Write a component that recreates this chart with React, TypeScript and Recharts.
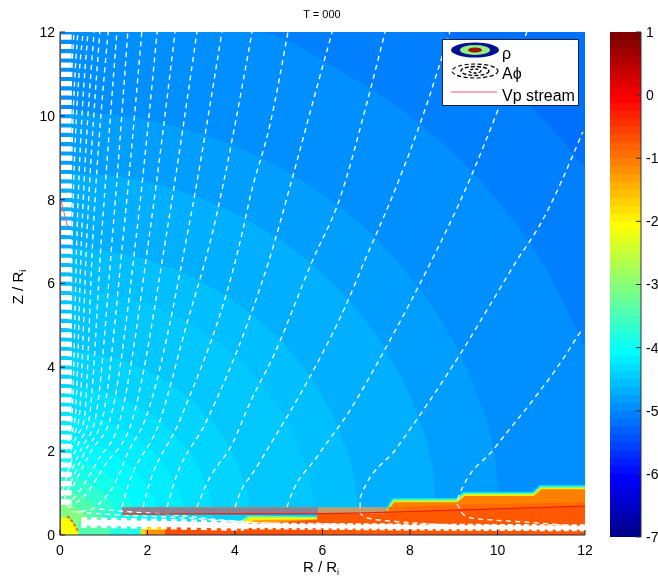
import React from "react";
import { ComposedChart, Area, Line, XAxis, YAxis } from "recharts";

type P = { x: number; z: number };
const pts = (a: number[][]): P[] => a.map(([x, z]) => ({ x, z }));

const axisTicks = [0, 2, 4, 6, 8, 10, 12];
const barTicks = [-7, -6, -5, -4, -3, -2, -1, 0, 1];
const jet = ["#00008f","#00009f","#0000af","#0000bf","#0000cf","#0000df","#0000ef","#0000ff","#0010ff","#0020ff","#0030ff","#0040ff","#0050ff","#0060ff","#0070ff","#0080ff","#008fff","#009fff","#00afff","#00bfff","#00cfff","#00dfff","#00efff","#00ffff","#10ffef","#20ffdf","#30ffcf","#40ffbf","#50ffaf","#60ff9f","#70ff8f","#80ff80","#8fff70","#9fff60","#afff50","#bfff40","#cfff30","#dfff20","#efff10","#ffff00","#ffef00","#ffdf00","#ffcf00","#ffbf00","#ffaf00","#ff9f00","#ff8f00","#ff8000","#ff7000","#ff6000","#ff5000","#ff4000","#ff3000","#ff2000","#ff1000","#ff0000","#ef0000","#df0000","#cf0000","#bf0000","#af0000","#9f0000","#8f0000","#800000"];

// density contour bands, largest first
const ringAll = [[0,12],[12,12]];
const ring15 = [[0,12],[8.75,12],[9.55,11.37],[10.5,10.5],[11.37,9.55],[12,8.75]];
const ring13 = [[0,12],[4.45,12],[6.4,11.08],[8.23,9.8],[9.8,8.23],[11.08,6.4],[12,4.45]];
const ring10 = [[0,10.1],[1.75,9.95],[3.45,9.49],[5.05,8.75],[6.49,7.74],[7.74,6.49],[8.75,5.05],[9.49,3.45],[9.95,1.75],[10.1,0]];
const ring9 = [[0,8.65],[1.5,8.52],[2.96,8.13],[4.33,7.49],[5.56,6.63],[6.63,5.56],[7.49,4.33],[8.13,2.96],[8.52,1.5],[8.65,0]];
const ring7 = [[0,6.85],[1.19,6.75],[2.34,6.44],[3.43,5.93],[4.4,5.25],[5.25,4.4],[5.93,3.43],[6.44,2.34],[6.75,1.19],[6.85,0]];
const ring6 = [[0,5.85],[1.02,5.76],[2,5.5],[2.93,5.07],[3.76,4.48],[4.48,3.76],[5.07,2.93],[5.5,2],[5.76,1.02],[5.85,0]];
const ring4 = [[0,4.4],[0.76,4.33],[1.5,4.13],[2.2,3.81],[2.83,3.37],[3.37,2.83],[3.81,2.2],[4.13,1.5],[4.33,0.76],[4.4,0]];
const ring3a = [[0,3.55],[0.62,3.5],[1.21,3.34],[1.78,3.07],[2.28,2.72],[2.72,2.28],[3.07,1.78],[3.34,1.21],[3.5,0.62],[3.55,0]];
const ring3 = [[0,2.9],[0.99,2.73],[1.86,2.22],[2.51,1.45],[2.86,0.5],[2.9,0]];
const ring2a = [[0,2.3],[0.79,2.16],[1.48,1.76],[1.99,1.15],[2.27,0.4],[2.3,0]];
const ring2 = [[0,1.8],[0.62,1.69],[1.16,1.38],[1.56,0.9],[1.77,0.31],[1.8,0]];
const ring1a = [[0,1.4],[0.48,1.32],[0.9,1.07],[1.21,0.7],[1.38,0.24],[1.4,0]];
const ring1 = [[0,1.05],[0.36,0.99],[0.67,0.8],[0.91,0.53],[1.03,0.18],[1.05,0]];
const ring0 = [[0,0.75],[0.26,0.7],[0.48,0.57],[0.65,0.38],[0.74,0.13],[0.75,0]];
const ringBands: [number[][], string][] = [
  [ringAll, jet[14]], [ring15, jet[15]], [ring13, jet[16]], [ring10, jet[17]], [ring9, jet[18]],
  [ring7, jet[19]], [ring6, "#00c8ff"], [ring4, "#00d4ff"], [ring3a, "#00e0ff"], [ring3, "#00ecff"],
  [ring2a, "#00f8ff"], [ring2, "#14ffeb"], [ring1a, "#30ffd0"], [ring1, "#50ffaf"], [ring0, jet[31]],
];

// disk top, stepped, with its thin colour transition
const diskCyan = [[5.88,0.67],[7.47,0.67],[7.6,0.88],[9.05,0.88],[9.22,1.03],[10.8,1.03],[10.97,1.19],[12,1.19]];
const diskGreen = [[5.88,0.64],[7.48,0.64],[7.61,0.85],[9.06,0.85],[9.23,1.0],[10.81,1.0],[10.98,1.16],[12,1.16]];
const diskYellow = [[5.88,0.61],[7.49,0.61],[7.62,0.82],[9.07,0.82],[9.24,0.97],[10.82,0.97],[10.99,1.13],[12,1.13]];
const diskOrange = [[5.88,0.58],[7.5,0.58],[7.63,0.78],[9.08,0.78],[9.25,0.93],[10.83,0.93],[11,1.09],[12,1.09]];
const diskDeep = [[5.88,0.5],[7.5,0.52],[9,0.57],[12,0.68]];
const diskWedge = [[7.5,0.66],[9,0.72],[12,0.78]];
const patchGreen = [[4.05,0.28],[4.3,0.46],[5.9,0.44]];
const patchYellow = [[4.1,0.26],[4.35,0.42],[5.9,0.41]];
const patchOrange = [[4.2,0.24],[4.45,0.36],[5.9,0.37]];
const floorRed = [[2.4,0.22],[2.7,0.3],[4.3,0.26],[5.9,0.37],[5.91,0.5],[12,0.5]];
const floorYellow = [[1.85,0.2],[2.6,0.2]];
const floorOrange = [[1.95,0.12],[2.6,0.12]];
const floorGreen = [[0.42,0.32],[1.15,0.32]];
const floorAqua = [[1.15,0.3],[1.9,0.3]];
const originBlob = [[0,0.42],[0.15,0.4],[0.3,0.28],[0.4,0.1],[0.42,0]];
const barGrey = [[1.42,0.66],[5.9,0.66]];
const barTan = [[5.9,0.66],[7.47,0.66]];
const barBase = 0.51;

// field lines of A-phi
const fieldLines = [
  [[0.03,0.72],[0.05,1.9],[0.14,3.7],[0.18,7.28],[0.32,12]],
  [[0.03,0.72],[0.05,1.79],[0.18,3.2],[0.23,7.28],[0.41,12]],
  [[0.03,0.72],[0.05,1.67],[0.23,2.74],[0.28,7.28],[0.53,12]],
  [[0.03,0.72],[0.05,1.55],[0.27,2.74],[0.39,7.28],[0.64,12]],
  [[0.03,0.72],[0.05,1.43],[0.14,2.03],[0.34,2.74],[0.5,7.28],[0.78,12]],
  [[0.03,0.72],[0.05,1.31],[0.16,2.03],[0.43,2.74],[0.62,7.28],[0.91,12]],
  [[0.03,0.72],[0.05,1.19],[0.18,1.79],[0.34,2.27],[0.55,2.74],[0.76,7.28],[1.1,12]],
  [[0.07,1.07],[0.23,1.67],[0.41,2.15],[0.66,2.74],[0.96,7.28],[1.3,12]],
  [[0.07,0.95],[0.27,1.55],[0.5,2.08],[0.8,2.74],[1.21,7.28],[1.55,12]],
  [[0.09,0.83],[0.32,1.43],[0.59,2.03],[0.96,2.74],[1.46,7.28],[1.87,12]],
  [[0.11,0.76],[0.37,1.31],[0.73,2.03],[1.14,2.74],[1.76,7.28],[2.22,12]],
  [[0.14,0.69],[0.46,1.07],[0.87,1.79],[1.37,2.74],[2.06,7.28],[2.63,12]],
  [[0.18,0.64],[0.57,0.95],[1.03,1.67],[1.65,2.74],[2.45,7.28],[3.13,12]],
  [[0.27,0.55],[0.69,0.6],[0.91,0.76],[1.26,1.24],[1.55,1.96],[1.94,2.74],[2.93,7.28],[3.7,12]],
  [[1.42,0.67],[1.49,0.95],[2.29,2.74],[2.86,4.89],[3.5,7.28],[4.39,12]],
  [[1.9,0.67],[1.99,1.03],[2.74,2.74],[4.18,7.28],[4.34,8.04],[4.8,9.79],[5.21,12]],
  [[2.45,0.67],[2.58,1.15],[3.36,2.74],[4.34,5.2],[4.78,6.56],[5.33,8.59],[5.78,10.33],[6.22,12]],
  [[3.13,0.67],[3.36,1.24],[3.95,2.2],[4.34,3.15],[4.87,4.25],[5.76,6.52],[6.4,8.04],[7.02,10.33],[7.43,12]],
  [[4,0.67],[4.18,1.15],[4.34,1.38],[4.87,2.27],[5.71,3.77],[6.56,5.54],[6.97,6.56],[7.61,8.11],[8.3,10.02],[8.91,12]],
  [[5.19,0.67],[5.26,0.88],[5.87,1.86],[6.63,2.98],[7.38,4.34],[8,5.54],[8.5,6.56],[9.21,8.11],[10.01,10.14],[10.67,12]],
  [[12,0.14],[10.1,0.22],[8.53,0.26],[7.6,0.33],[7.13,0.38],[6.86,0.52],[6.86,0.7],[6.86,0.88],[7.7,2.08],[8.46,3.22],[9.21,4.42],[9.9,5.61],[10.45,6.56],[10.97,7.4],[11.95,9.62]],
  [[12,0.19],[10.9,0.29],[9.86,0.36],[9.4,0.405],[9.19,0.525],[9.07,0.72],[9.1,0.88],[9.94,2.08],[10.9,3.34],[11.36,3.99],[11.95,4.94]],
  [[0.4,0.55],[1,0.5],[2,0.45],[3,0.4],[4,0.32],[5,0.28],[6,0.26],[7.5,0.24],[9,0.22],[12,0.2]],
  [[0.9,0.62],[1.5,0.56],[2.5,0.49],[3.5,0.38],[4.4,0.3]],
];
const axisStubs = [[0.14,0.72],[0.14,12]];
const wallLine = [[0,0],[0,12]];
const bandLeft = [[0.48,0.3],[2,0.27],[4.2,0.22]];
const bandRight = [[4.2,0.22],[8,0.19],[12,0.17]];
const streamDisk = [[1.42,0.5],[6,0.51],[7,0.53],[9,0.59],[12,0.69]];
const streamAxis = [[0,8.07],[0.18,7.33]];
const streamOrigin = [[0.17,0.45],[0.3,0.3],[0.42,0.07]];

const font = "'Liberation Sans', Arial, sans-serif";
const tickStyle = { fontFamily: font, fontSize: 14, fill: "#000" };
const wrap: React.CSSProperties = { position: "absolute", left: 0, top: 0 };

const fill = (d: number[][], c: string, k: string, curve = "linear") => (
  <Area key={k} data={pts(d)} dataKey="z" type={curve as any} fill={c} fillOpacity={1} stroke="none"
    isAnimationActive={false} dot={false} activeDot={false} />
);
const band = (d: number[][], lo: number, c: string, k: string) => (
  <Area key={k} data={d.map(([x, z]) => ({ x, r: [lo, z] }))} dataKey="r" type="linear" fill={c} fillOpacity={1} stroke="none"
    isAnimationActive={false} dot={false} activeDot={false} />
);
const line = (d: number[][], c: string, w: number, k: string, dash?: string, curve = "linear") => (
  <Line key={k} data={pts(d)} dataKey="z" type={curve as any} stroke={c} strokeWidth={w} strokeDasharray={dash}
    dot={false} activeDot={false} isAnimationActive={false} />
);

export default function App() {
  return (
    <div style={{ position: "absolute", left: 0, top: 0, width: 658, height: 577, background: "#fff", filter: "blur(0.55px)" }}>
      <div style={wrap}>
        <ComposedChart width={658} height={577} margin={{ top: 32, left: 20, right: 73, bottom: 12 }}>
          {ringBands.map(([d, c], i) => fill(d, c, "ring" + i, i > 1 ? "monotone" : "linear"))}
          {fill(floorGreen, jet[28], "fg")}
          {fill(floorAqua, jet[25], "fa")}
          {fill(floorYellow, "#ffd800", "fy")}
          {fill(floorOrange, "#ff9000", "fo")}
          {fill(patchGreen, "#70ff8f", "pg")}
          {fill(patchYellow, "#ffef00", "py")}
          {fill(patchOrange, "#ff9f00", "po")}
          {fill(floorRed, "#ff5000", "fr")}
          {fill(diskCyan, "#00dfff", "dc")}
          {fill(diskGreen, "#60ff9f", "dg")}
          {fill(diskYellow, "#f0f000", "dy")}
          {fill(diskOrange, "#ff8000", "do")}
          {band(diskWedge, 0.6, "#ff6a00", "dw")}
          {fill(diskDeep, "#ff5800", "dd")}
          {band(barGrey, barBase, "#8d7f90", "bg")}
          {band(barTan, barBase, "#c49a6a", "bt")}
          {fill(originBlob, "#ffff00", "ob", "monotone")}
          {line(barGrey, "#86988a", 1, "bl")}
          {fieldLines.map((d, i) => line(d, "#ffffff", 1.35, "f" + i, "5 4.3", "monotone"))}
          {line(axisStubs, "#ffffff", 11, "stubs", "5.2 4.1")}
          {line(bandLeft, "#ffffff", 6, "bl1")}
          {line(bandLeft, "#ffffff", 10.5, "bl2", "6 4")}
          {line(bandRight, "#ffffff", 4, "br1")}
          {line(bandRight, "#ffffff", 7, "br2", "5 3")}
          {line(streamDisk, "#f02010", 1.3, "sd")}
          {line(streamAxis, "#e8606c", 1, "sa")}
          {line(streamOrigin, "#ff5a10", 2, "so", "3 2")}
          {line(wallLine, "#8e8e8e", 2, "wall")}
          <XAxis dataKey="x" type="number" domain={[0, 12]} ticks={axisTicks} allowDataOverflow height={30}
            tickSize={-5} tickMargin={15} tick={tickStyle} stroke="#20203a" interval={0} />
          <YAxis dataKey="z" type="number" domain={[0, 12]} ticks={axisTicks} allowDataOverflow width={40}
            tickSize={-5} tickMargin={10} tick={tickStyle} stroke="#20203a" interval={0} />
          <XAxis xAxisId="t" orientation="top" type="number" domain={[0, 12]} ticks={axisTicks} height={0}
            tickSize={-5} tick={false} stroke="#20203a" />
          <YAxis yAxisId="r" orientation="right" type="number" domain={[0, 12]} ticks={axisTicks} width={0}
            tickSize={-5} tick={false} stroke="#20203a" />
        </ComposedChart>
      </div>
      <div style={wrap}>
        <ComposedChart width={658} height={577} margin={{ top: 32, left: 610, right: 0, bottom: 40 }}>
          <XAxis dataKey="x" type="number" domain={[0, 1]} hide />
          {jet.map((c, i) => (
            <Area key={c} data={[{ x: 0, r: [-7 + i / 8, Math.min(1, -7 + (i + 1) / 8 + 0.03)] }, { x: 1, r: [-7 + i / 8, Math.min(1, -7 + (i + 1) / 8 + 0.03)] }]}
              dataKey="r" type="linear" fill={c} fillOpacity={1} stroke="none"
              isAnimationActive={false} dot={false} activeDot={false} />
          ))}
          <YAxis orientation="right" type="number" domain={[-7, 1]} ticks={barTicks} width={17}
            tickSize={-5} tickMargin={10} tick={{ ...tickStyle, textAnchor: "start" }} stroke="#30303a" interval={0} />
          <YAxis yAxisId="l" orientation="left" type="number" domain={[-7, 1]} ticks={barTicks} width={0}
            tickSize={-5} tick={false} stroke="#30303a" />
        </ComposedChart>
      </div>
      <svg width={658} height={577} style={{ ...wrap, pointerEvents: "none" }}>
        <text x={322} y={18} textAnchor="middle" fontFamily={font} fontSize={11}>T = 000</text>
        <text x={321} y={572} textAnchor="middle" fontFamily={font} fontSize={15}>
          R / R<tspan fontSize={9} dy={3}>i</tspan>
        </text>
        <text transform="translate(23,287) rotate(-90)" textAnchor="middle" fontFamily={font} fontSize={15}>
          Z / R<tspan fontSize={9} dy={3}>i</tspan>
        </text>
        <rect x={442.5} y={39.5} width={136} height={66} fill="#fff" stroke="#20203a" strokeWidth={1} />
        <ellipse cx={475} cy={50} rx={24} ry={7.5} fill="#00108f" />
        <ellipse cx={475} cy={50} rx={15} ry={5} fill="#90f080" />
        <ellipse cx={475} cy={50} rx={7} ry={2.6} fill="#a01000" />
        <ellipse cx={475} cy={71} rx={23} ry={7} fill="none" stroke="#000" strokeWidth={1.2} strokeDasharray="4 2.5" />
        <ellipse cx={475} cy={71} rx={14} ry={4.5} fill="none" stroke="#000" strokeWidth={1.4} strokeDasharray="4 2" />
        <ellipse cx={475} cy={71} rx={6} ry={2} fill="none" stroke="#000" strokeWidth={1.4} strokeDasharray="3 2" />
        <line x1={451} x2={497} y1={92} y2={92} stroke="#e8606c" strokeWidth={1} />
        <text x={502} y={59} fontFamily={font} fontSize={16}>ρ</text>
        <text x={502} y={79} fontFamily={font} fontSize={16}>Aϕ</text>
        <text x={502} y={101} fontFamily={font} fontSize={16}>Vp stream</text>
      </svg>
    </div>
  );
}
